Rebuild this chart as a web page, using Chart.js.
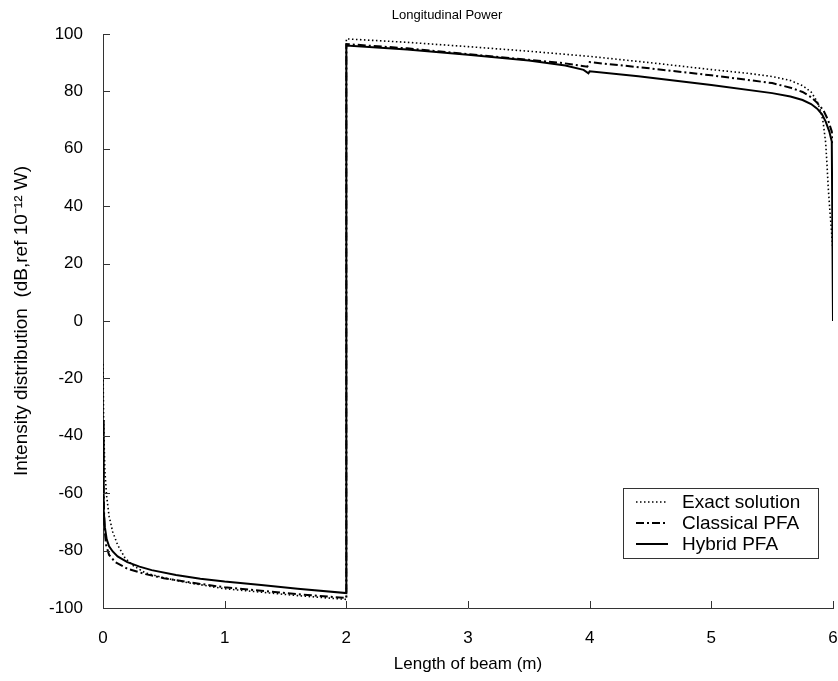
<!DOCTYPE html>
<html>
<head>
<meta charset="utf-8">
<script src="https://cdn.jsdelivr.net/npm/chart.js@4/dist/chart.umd.min.js"></script>
<style>
  html, body { margin: 0; padding: 0; background: #fff; }
  #wrap { width: 838px; height: 681px; }
</style>
</head>
<body>
<div id="wrap"><canvas id="chartPower" width="838" height="681"></canvas></div>
<script>
// values (x in m, y in dB)
const exactX = [0, 0.005, 0.015, 0.03, 0.05, 0.08, 0.12, 0.18, 0.25, 0.35, 0.5, 0.7, 1, 1.3, 1.6, 2,
  2, 2.5, 3, 3.5, 4, 4.5, 5, 5.3, 5.5, 5.65, 5.75, 5.82, 5.87, 5.9, 5.92, 5.94, 5.95, 5.96, 5.975, 5.99, 6];
const exactY = [-15, -35, -52, -61, -68, -73.5, -78, -82.5, -85.3, -87.8, -89.5, -91.2, -93.3, -94.5, -95.7, -97,
  98.3, 97.1, 95.6, 94, 92.2, 90, 87.6, 86.3, 85.2, 83.8, 82, 79.8, 76.5, 73, 69, 62, 55, 47, 38, 30, 24];

const classicalX = [0, 0.005, 0.012, 0.025, 0.05, 0.1, 0.2, 0.35, 0.5, 0.75, 1, 1.3, 1.6, 2,
  2, 2.5, 3, 3.5, 3.76, 3.98, 4, 4.5, 5, 5.5, 5.65, 5.75, 5.82, 5.87, 5.92, 5.96, 5.99, 6];
const classicalY = [-35, -60, -72, -78, -81.5, -84, -86.3, -88.2, -89.6, -91.3, -92.8, -94, -95.2, -96.5,
  96.5, 95, 93, 91, 90, 88.6, 90.2, 88, 85.6, 82.9, 81.3, 79.8, 78, 76, 73.5, 70, 66, 62];

const hybridX = [0, 0.003, 0.008, 0.016, 0.03, 0.05, 0.08, 0.12, 0.2, 0.3, 0.4, 0.6, 0.8, 1, 1.3, 1.6, 2,
  2, 2.5, 3, 3.5, 3.8, 3.95, 3.99, 4, 4.4, 5, 5.5, 5.65, 5.75, 5.82, 5.87, 5.91, 5.94, 5.97, 5.99, 6];
const hybridY = [-34.5, -55, -66, -72, -76, -78.5, -80.3, -82, -84, -85.6, -86.8, -88.5, -89.8, -90.8, -92, -93.3, -94.8,
  96, 94.6, 92.8, 90.8, 89, 87.5, 86.3, 87, 85.3, 82.2, 79.4, 78.2, 77, 75.6, 74, 72, 69.5, 66, 62.5, 0];

const seriesNames = ["Exact solution", "Classical PFA", "Hybrid PFA"];
const xTicks = [0, 1, 2, 3, 4, 5, 6];
const yTicks = [-100, -80, -60, -40, -20, 0, 20, 40, 60, 80, 100];

const toPoints = (xs, ys) => xs.map((x, i) => ({ x: x, y: ys[i] }));

const FONT = "'Liberation Sans', Arial, sans-serif";
const AXIS_COLOR = "#333";

// inner tick marks, drawn through the chart scales
const innerTicks = {
  id: "innerTicks",
  afterDraw(chart) {
    const ctx = chart.ctx;
    const xs = chart.scales.x;
    const ys = chart.scales.y;
    ctx.save();
    ctx.strokeStyle = AXIS_COLOR;
    ctx.lineWidth = 1;
    ctx.beginPath();
    yTicks.forEach((v) => {
      const py = Math.round(ys.getPixelForValue(v)) + 0.5;
      ctx.moveTo(xs.left, py);
      ctx.lineTo(xs.left + 7, py);
    });
    xTicks.forEach((v) => {
      const px = Math.round(xs.getPixelForValue(v)) + 0.5;
      ctx.moveTo(px, ys.bottom);
      ctx.lineTo(px, ys.bottom - 7);
    });
    ctx.stroke();
    ctx.restore();
  },
};

// title and boxed legend inside the plot
const titleAndLegend = {
  id: "titleAndLegend",
  afterDraw(chart) {
    const ctx = chart.ctx;
    ctx.save();
    ctx.fillStyle = "#000";
    ctx.font = "13px " + FONT;
    ctx.textAlign = "center";
    ctx.textBaseline = "middle";
    ctx.fillText("Longitudinal Power", 447, 15);

    const bx = 623, by = 488, bw = 195, bh = 70;
    ctx.fillStyle = "#fff";
    ctx.fillRect(bx, by, bw, bh);
    ctx.strokeStyle = "#333";
    ctx.lineWidth = 1;
    ctx.strokeRect(bx + 0.5, by + 0.5, bw, bh);

    const rows = [502, 523, 544];
    chart.data.datasets.forEach((ds, i) => {
      const y = rows[i];
      ctx.save();
      ctx.strokeStyle = ds.borderColor;
      ctx.lineWidth = ds.borderWidth;
      ctx.setLineDash(ds.borderDash || []);
      ctx.beginPath();
      ctx.moveTo(636, y);
      ctx.lineTo(668, y);
      ctx.stroke();
      ctx.restore();
      ctx.fillStyle = "#000";
      ctx.font = "19px " + FONT;
      ctx.textAlign = "left";
      ctx.textBaseline = "middle";
      ctx.fillText(ds.label, 682, y + 1);
    });
    ctx.restore();
  },
};

const canvasPower = document.getElementById("chartPower");
const contextPower = canvasPower.getContext("2d");

const chartPower = new Chart(contextPower, {
  type: "scatter",
  data: {
    datasets: [
      {
        label: seriesNames[0],
        data: toPoints(exactX, exactY),
        showLine: true,
        borderColor: "#000",
        borderWidth: 1.6,
        borderDash: [1.5, 2.5],
        pointRadius: 0,
      },
      {
        label: seriesNames[1],
        data: toPoints(classicalX, classicalY),
        showLine: true,
        borderColor: "#000",
        borderWidth: 2,
        borderDash: [8, 3, 2, 3],
        pointRadius: 0,
      },
      {
        label: seriesNames[2],
        data: toPoints(hybridX, hybridY),
        showLine: true,
        borderColor: "#000",
        borderWidth: 2,
        pointRadius: 0,
      },
    ],
  },
  options: {
    responsive: false,
    animation: false,
    layout: { padding: { top: 34, left: 0, right: 5, bottom: 0 } },
    plugins: {
      legend: { display: false },
      tooltip: { enabled: false },
      title: { display: false },
    },
    scales: {
      x: {
        type: "linear",
        min: 0,
        max: 6,
        afterBuildTicks: (scale) => { scale.ticks = xTicks.map((v) => ({ value: v })); },
        afterFit: (scale) => {
          scale.height = 73;
          scale.paddingLeft = 0;
          scale.paddingRight = 0;
        },
        grid: { display: false, drawTicks: false },
        border: { display: true, color: AXIS_COLOR, width: 1 },
        ticks: { padding: 20, color: "#000", font: { family: FONT, size: 17 } },
        title: {
          display: true,
          text: "Length of beam (m)",
          color: "#000",
          font: { family: FONT, size: 17 },
          padding: { top: 0, bottom: 6 },
        },
      },
      y: {
        type: "linear",
        min: -100,
        max: 100,
        afterBuildTicks: (scale) => { scale.ticks = yTicks.map((v) => ({ value: v })); },
        afterFit: (scale) => {
          scale.width = 103;
          scale.paddingTop = 0;
          scale.paddingBottom = 0;
        },
        grid: { display: false, drawTicks: false },
        border: { display: true, color: AXIS_COLOR, width: 1 },
        ticks: { padding: 20, color: "#000", font: { family: FONT, size: 17 } },
        title: {
          display: true,
          text: "Intensity distribution  (dB,ref 10\u207B\u00B9\u00B2 W)",
          color: "#000",
          font: { family: FONT, size: 19 },
          padding: { top: 10, bottom: 0 },
        },
      },
    },
  },
  plugins: [innerTicks, titleAndLegend],
});
</script>
</body>
</html>
